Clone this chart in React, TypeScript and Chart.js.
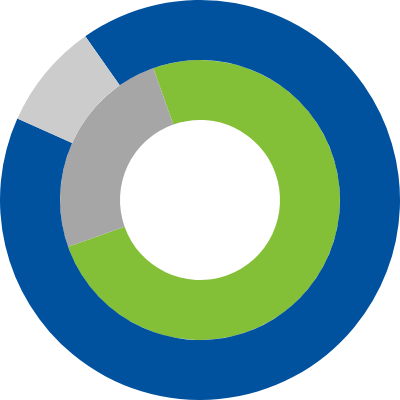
import React, { useEffect, useRef } from "react";
import { Chart, registerables } from "chart.js";

Chart.register(...registerables);

const outerLabels = ["Main", "Other"];
const outerValues = [91.4, 8.6];
const outerColors = ["#00529F", "#CCCCCC"];

const innerLabels = ["Share A", "Share B"];
const innerValues = [75, 25];
const innerColors = ["#84BF38", "#A6A6A6"];

export default function App() {
  const ref = useRef<HTMLCanvasElement | null>(null);
  useEffect(() => {
    document.body.style.margin = "0";
    if (!ref.current) return;
    const chart = new Chart(ref.current, {
      type: "doughnut",
      data: {
        labels: outerLabels,
        datasets: [
          {
            data: outerValues,
            backgroundColor: outerColors,
            borderWidth: 0,
            rotation: 325,
          } as any,
          {
            data: innerValues,
            backgroundColor: innerColors,
            borderWidth: 0,
            rotation: 340.5,
            labels: innerLabels,
          } as any,
        ],
      },
      options: {
        animation: false,
        responsive: false,
        maintainAspectRatio: false,
        cutout: "40%",
        layout: { padding: 0 },
        plugins: { legend: { display: false }, tooltip: { enabled: false } },
      },
    });
    return () => chart.destroy();
  }, []);
  return (
    <div style={{ position: "fixed", left: 0, top: 0, width: 400, height: 400, background: "#fff" }}>
      <canvas ref={ref} width={400} height={400} style={{ width: 400, height: 400 }} />
    </div>
  );
}
